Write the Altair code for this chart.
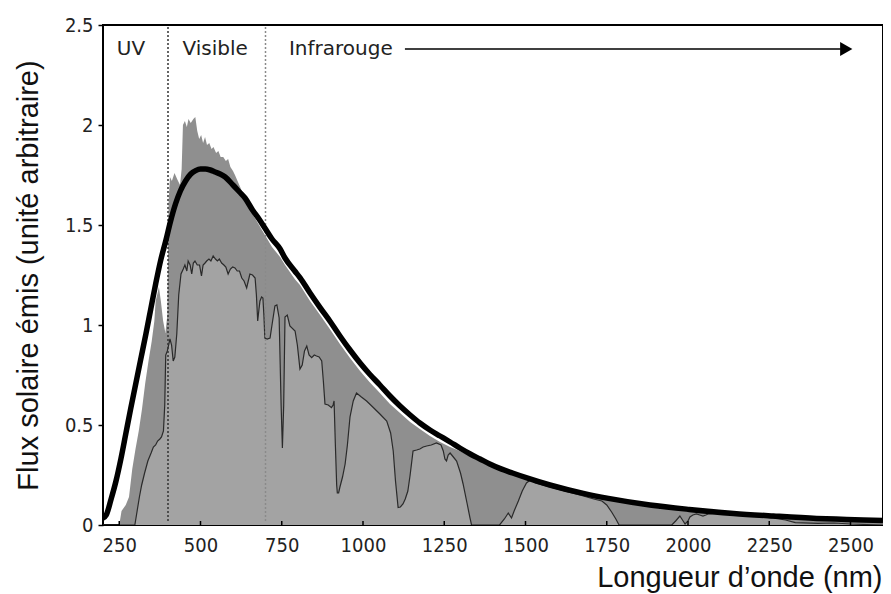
import altair as alt
import pandas as pd

# ---------------- data ----------------
bb_wl = [200, 210, 225, 240, 255, 270, 285, 300, 315, 332, 347, 362, 377, 393, 408, 423,
         438, 454, 470, 485, 500, 515, 530, 545, 560, 576, 600, 620, 637, 660, 680, 698,
         720, 745, 760, 790, 806, 837, 868, 900, 929, 960, 991, 1020, 1052, 1083, 1114,
         1145, 1175, 1206, 1237, 1268, 1298, 1330, 1360, 1390, 1421, 1460, 1509, 1575,
         1678, 1755, 1883, 2004, 2140, 2263, 2396, 2488, 2600]
bb_val = [0.035, 0.05, 0.13, 0.22, 0.33, 0.455, 0.58, 0.70, 0.82, 0.955, 1.08, 1.205, 1.32,
          1.42, 1.52, 1.605, 1.67, 1.72, 1.755, 1.772, 1.78, 1.78, 1.775, 1.765, 1.755,
          1.74, 1.70, 1.665, 1.635, 1.575, 1.53, 1.485, 1.43, 1.38, 1.335, 1.27, 1.237,
          1.16, 1.087, 1.015, 0.945, 0.875, 0.81, 0.755, 0.70, 0.645, 0.595, 0.55, 0.51,
          0.475, 0.445, 0.415, 0.385, 0.355, 0.33, 0.305, 0.283, 0.26, 0.233, 0.20, 0.158,
          0.133, 0.10, 0.078, 0.058, 0.045, 0.033, 0.028, 0.022]

toa_wl = [200, 250, 257, 270, 280, 290, 300, 310, 320, 330, 340, 350, 358, 362, 368, 372,
          378, 385, 392, 398, 402, 406, 412, 420, 428, 437, 442, 446, 452, 458, 463, 470,
          478, 484, 490, 496, 502, 508, 514, 520, 527, 534, 540, 548, 555, 562, 570, 578,
          585, 592, 600, 606, 614, 622, 640, 660, 680, 700, 720, 745, 760, 790, 806, 837,
          868, 900, 929, 960, 991, 1020, 1052, 1083, 1114, 1145, 1175, 1206, 1237, 1268,
          1298, 1330, 1360, 1390, 1421, 1460, 1509, 1575, 1678, 1755, 1883, 2004, 2140,
          2263, 2396, 2488, 2600]
toa_val = [0, 0, 0.07, 0.10, 0.14, 0.28, 0.38, 0.47, 0.58, 0.71, 0.82, 0.92, 1.02, 1.12,
           1.16, 1.19, 1.12, 1.02, 0.96, 1.05, 1.62, 1.74, 1.72, 1.76, 1.73, 1.70, 1.78,
           2.00, 2.02, 1.99, 2.03, 2.01, 2.03, 2.04, 1.97, 1.93, 1.95, 1.91, 1.94, 1.90,
           1.91, 1.88, 1.89, 1.86, 1.87, 1.84, 1.84, 1.82, 1.83, 1.79, 1.77, 1.75, 1.72,
           1.69, 1.62, 1.555, 1.50, 1.445, 1.39, 1.34, 1.30, 1.23, 1.20, 1.12, 1.05, 0.975,
           0.905, 0.835, 0.77, 0.715, 0.66, 0.605, 0.56, 0.515, 0.48, 0.445, 0.415, 0.39,
           0.37, 0.345, 0.325, 0.30, 0.278, 0.255, 0.228, 0.195, 0.153, 0.128, 0.095,
           0.073, 0.053, 0.04, 0.028, 0.023, 0.018]

sea_wl = [200, 298, 305, 312, 319, 328, 338, 348, 355, 362, 368, 375, 380, 386, 390, 393,
          398, 406, 411, 416, 421, 427, 433, 440, 447, 452, 458, 462, 468, 473, 478, 483,
          490, 497, 503, 508, 514, 519, 526, 532, 539, 546, 552, 558, 565, 572, 578, 585,
          592, 599, 606, 613, 620, 627, 634, 642, 647, 652, 660, 668, 672, 676, 680, 683,
          688, 692, 695, 698, 705, 714, 720, 729, 735, 742, 748, 752, 756, 760, 767, 775,
          791, 798, 806, 813, 820, 827, 834, 842, 850, 857, 865, 873, 878, 883, 893, 903,
          908, 911, 915, 919, 921, 925, 929, 937, 945, 952, 960, 970, 980, 995, 1011, 1030,
          1052, 1073, 1085, 1093, 1100, 1108, 1115, 1123, 1130, 1138, 1145, 1154, 1165,
          1175, 1185, 1196, 1210, 1226, 1240, 1247, 1252, 1257, 1262, 1268, 1278, 1288,
          1300, 1308, 1320, 1329, 1334, 1420, 1435, 1447, 1457, 1465, 1478, 1490, 1503,
          1515, 1530, 1575, 1620, 1678, 1710, 1735, 1750, 1765, 1778, 1788, 1950, 1962,
          1975, 1985, 1991, 2000, 2006, 2015, 2026, 2036, 2046, 2055, 2062, 2100, 2150,
          2200, 2260, 2300, 2330, 2400, 2450, 2500, 2600]
sea_val = [0, 0, 0.07, 0.14, 0.20, 0.26, 0.32, 0.36, 0.39, 0.40, 0.42, 0.43, 0.44, 0.47,
           0.60, 0.85, 0.87, 0.93, 0.90, 0.82, 0.84, 0.955, 1.15, 1.255, 1.28, 1.30, 1.27,
           1.32, 1.30, 1.255, 1.31, 1.32, 1.30, 1.30, 1.245, 1.30, 1.31, 1.32, 1.33, 1.32,
           1.345, 1.33, 1.32, 1.33, 1.31, 1.30, 1.29, 1.255, 1.28, 1.29, 1.285, 1.27, 1.27,
           1.235, 1.22, 1.185, 1.22, 1.255, 1.25, 1.235, 1.15, 1.02, 1.08, 1.12, 1.14,
           1.135, 1.05, 0.935, 0.93, 0.935, 1.00, 1.095, 1.10, 1.035, 0.60, 0.385, 0.60,
           1.04, 1.05, 0.995, 0.97, 0.90, 0.78, 0.80, 0.87, 0.895, 0.85, 0.837, 0.85,
           0.845, 0.84, 0.82, 0.72, 0.605, 0.60, 0.587, 0.60, 0.62, 0.40, 0.20, 0.16, 0.16,
           0.19, 0.24, 0.305, 0.40, 0.54, 0.62, 0.66, 0.64, 0.62, 0.59, 0.555, 0.52, 0.46,
           0.37, 0.22, 0.087, 0.09, 0.105, 0.13, 0.17, 0.25, 0.37, 0.375, 0.38, 0.39,
           0.395, 0.40, 0.41, 0.40, 0.37, 0.33, 0.32, 0.35, 0.36, 0.34, 0.32, 0.26, 0.205,
           0.11, 0.037, 0, 0, 0.03, 0.06, 0.035, 0.07, 0.12, 0.17, 0.21, 0.225, 0.21, 0.19,
           0.17, 0.145, 0.13, 0.12, 0.10, 0.065, 0.03, 0, 0, 0.02, 0.045, 0.02, 0.005,
           0.02, 0.04, 0.05, 0.055, 0.05, 0.045, 0.05, 0.055, 0.06, 0.05, 0.045, 0.035,
           0.025, 0.012, 0.008, 0.01, 0.005, 0]

x_ticks = [250, 500, 750, 1000, 1250, 1500, 1750, 2000, 2250, 2500]
y_ticks = [0, 0.5, 1, 1.5, 2, 2.5]

band_edges = [400, 700]
band_edge_colors = ["#333333", "#8a8a8a"]

band_names_center = ["UV", "Visible"]
band_names_center_wl = [286, 545]
band_name_ir = ["Infrarouge"]
band_name_ir_wl = [772]
label_level = 2.38
arrow_start, arrow_end, arrow_head = 1129, 2470, 2487

X_DOMAIN = [200, 2600]
Y_DOMAIN = [0, 2.5]

# ---------------- tables ----------------
bb = pd.DataFrame({"wl": bb_wl, "val": bb_val})
toa = pd.DataFrame({"wl": toa_wl, "val": toa_val})
sea = pd.DataFrame({"wl": sea_wl, "val": sea_val})
ticks_df = pd.DataFrame({"wl": x_ticks, "val": [0] * len(x_ticks), "val2": [0.02] * len(x_ticks)})
edges_df = pd.DataFrame({"wl": band_edges, "c": band_edge_colors,
                         "val": [0.02, 0.02], "val2": [Y_DOMAIN[1], Y_DOMAIN[1]]})
lab_c = pd.DataFrame({"wl": band_names_center_wl, "val": [label_level] * 2, "t": band_names_center})
lab_l = pd.DataFrame({"wl": band_name_ir_wl, "val": [label_level], "t": band_name_ir})
arrow_df = pd.DataFrame({"wl": [arrow_start], "wl2": [arrow_end], "val": [label_level]})
head_df = pd.DataFrame({"wl": [arrow_head], "val": [label_level]})

xs = alt.Scale(domain=X_DOMAIN, nice=False, zero=False)
ys = alt.Scale(domain=Y_DOMAIN, nice=False)

x_axis = alt.Axis(values=x_ticks, format="d", ticks=False, tickSize=0, domain=False,
                  grid=False, labelPadding=10, labelFlush=False,
                  title="Longueur d’onde (nm)", titleAlign="right", titleX=779,
                  titleY=61, titleBaseline="alphabetic")
y_axis = alt.Axis(values=y_ticks, format="~g", tickSize=5, tickWidth=1.5,
                  tickColor="black", domain=False, grid=False, labelPadding=5,
                  title="Flux solaire émis (unité arbitraire)", titleX=-66,
                  titleY=250, titleAlign="center", titleBaseline="alphabetic",
                  titleAngle=270)

X = alt.X("wl:Q", scale=xs, axis=x_axis)
Y = alt.Y("val:Q", scale=ys, axis=y_axis)

toa_area = alt.Chart(toa).mark_area(color="#8f8f8f", clip=True).encode(x=X, y=Y)
sea_area = alt.Chart(sea).mark_area(color="#a3a3a3", clip=True).encode(x=X, y=Y)
sea_line = alt.Chart(sea).mark_line(color="#2a2a2a", strokeWidth=1.2, clip=True).encode(x=X, y=Y)
edges = alt.Chart(edges_df).mark_rule(strokeDash=[2, 2], strokeWidth=1.5).encode(
    x=X, y=Y, y2="val2:Q", color=alt.Color("c:N", scale=None))
bb_line = alt.Chart(bb).mark_line(color="black", strokeWidth=5.5, interpolate="monotone",
                                  clip=True).encode(x=X, y=Y)
tick_marks = alt.Chart(ticks_df).mark_rule(color="black", strokeWidth=1.5).encode(
    x=X, y=Y, y2="val2:Q")
txt_c = alt.Chart(lab_c).mark_text(font="DejaVu Sans", fontSize=20, color="#222",
                                   align="center", baseline="middle").encode(x=X, y=Y, text="t:N")
txt_l = alt.Chart(lab_l).mark_text(font="DejaVu Sans", fontSize=20, color="#222",
                                   align="left", baseline="middle").encode(x=X, y=Y, text="t:N")
arrow = alt.Chart(arrow_df).mark_rule(color="black", strokeWidth=1.5).encode(
    x=X, x2="wl2:Q", y=Y)
head = alt.Chart(head_df).mark_point(shape="triangle-right", filled=True, color="black",
                                     size=200, opacity=1).encode(x=X, y=Y)

chart = alt.layer(toa_area, sea_area, sea_line, edges, bb_line, tick_marks,
                  txt_c, txt_l, arrow, head).properties(
    width=780, height=500,
    autosize=alt.AutoSizeParams(type="none"),
    padding={"left": 95, "top": 17, "right": 0, "bottom": 68},
).configure_view(stroke="black", strokeWidth=2).configure_axis(
    labelFont="DejaVu Sans Condensed", labelFontSize=20, labelColor="#222",
    titleFont="Liberation Sans", titleFontSize=29, titleFontWeight="normal",
    titleColor="#111")

chart.save("out.html", embed_options={"renderer": "svg", "actions": False})
